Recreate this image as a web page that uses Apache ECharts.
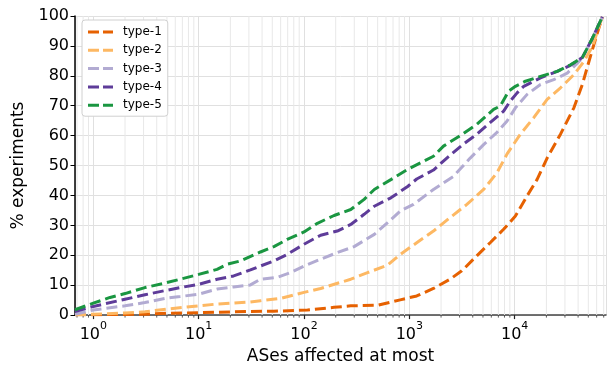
<!DOCTYPE html>
<html>
<head>
<meta charset="utf-8">
<script src="https://cdn.jsdelivr.net/npm/echarts@6/dist/echarts.min.js"></script>
<style>html,body{margin:0;padding:0;background:#fff;}#c{width:608px;height:370px;}</style>
</head>
<body>
<div id="c"></div>
<script>
const seriesNames = ['type-1', 'type-2', 'type-3', 'type-4', 'type-5'];
const colors = ['#e66101', '#fdb863', '#b2abd2', '#5e3c99', '#1a9641'];

const type1X = [0.67, 2, 3.09, 5, 10, 31, 51.8, 108, 193, 278, 499, 820, 1175, 1694, 2438, 3148, 4365, 5848, 7852, 10162, 13092, 16293, 20324, 27227, 36475, 43853, 50699, 58749, 67920];
const type1Y = [0.1, 0.2, 0.3, 0.6, 0.8, 1.2, 1.3, 1.7, 2.6, 3.1, 3.3, 5.1, 6.4, 8.9, 12, 14.8, 19.8, 24.2, 28.7, 33.1, 39.8, 45.3, 52.5, 60.5, 69.3, 77.1, 84.8, 92.5, 99.7];

const type2X = [0.67, 1, 2, 3.09, 5, 10, 14.96, 31, 38.6, 60, 100, 144, 278, 401, 622, 820, 1175, 1694, 2438, 3516, 5070, 6792, 8472, 11324, 15171, 20324, 27227, 36475, 45394, 54576, 67920];
const type2Y = [0.1, 0.3, 0.7, 1.1, 2, 3.1, 3.7, 4.4, 4.8, 5.6, 7.6, 8.9, 12, 14.2, 16.7, 20.3, 24.2, 28.1, 32.6, 37, 42, 47.6, 53.9, 60.5, 66, 72.1, 76, 80.4, 84.8, 89.7, 99.7];

const type3X = [0.67, 1, 2, 3.09, 5, 6.68, 10, 14.96, 21.5, 31, 38.6, 55.7, 74.6, 100, 144, 207, 299, 465, 622, 834, 1096, 1694, 2624, 3784, 5070, 6792, 8472, 10162, 13122, 17579, 23496, 31550, 43853, 54576, 67920];
const type3Y = [0.3, 1.7, 3.1, 4.2, 5.7, 6.2, 7, 8.7, 9.4, 10.1, 12, 12.6, 14.2, 16.4, 18.7, 20.9, 22.9, 27, 30.9, 35, 37, 42, 46.4, 52.5, 57, 61.1, 64.9, 69.3, 73.8, 77.1, 78.7, 80.9, 85.9, 92.5, 99.7];

const type4X = [0.67, 1, 2, 3.09, 4.65, 6.68, 10, 14.96, 21.5, 31, 38.6, 51.8, 69.3, 100, 144, 207, 278, 372, 465, 668, 964, 1175, 1694, 2270, 3266, 4385, 5875, 7852, 9099, 10544, 12190, 17579, 25351, 33884, 43853, 54576, 67920];
const type4Y = [1.2, 2.9, 5.3, 6.8, 8.1, 9.2, 10.3, 12, 13.1, 15.1, 16.4, 18.1, 20.3, 23.7, 26.7, 28.1, 30.3, 33.7, 36.4, 39.2, 43, 45.5, 48.5, 52.5, 57.2, 60.5, 64.4, 68.2, 71.6, 74.3, 76.5, 79.3, 81.5, 83.5, 86.1, 92.5, 99.7];

const type5X = [0.67, 1, 1.44, 2, 3.09, 4.65, 6.68, 10, 14.96, 18.6, 24.9, 38.6, 51.8, 69.3, 100, 134, 193, 278, 372, 465, 668, 964, 1291, 1694, 2109, 3041, 4385, 6310, 7311, 8770, 10162, 12647, 17579, 25351, 33884, 43853, 54576, 67920];
const type5Y = [1.8, 4.0, 5.9, 7.2, 9.2, 10.6, 12, 13.6, 15.3, 17, 18.1, 21.1, 22.9, 25.3, 27.8, 30.7, 33.3, 35.3, 38.7, 42, 45.3, 48.7, 51, 53.1, 56.5, 60, 63.8, 68.8, 69.9, 74.9, 76.5, 78.2, 79.8, 81.5, 83.7, 86.1, 92.5, 99.7];

const minorTickValues = [0.7, 0.8, 0.9, 2, 3, 4, 5, 6, 7, 8, 9, 20, 30, 40, 50, 60, 70, 80, 90,
  200, 300, 400, 500, 600, 700, 800, 900, 2000, 3000, 4000, 5000, 6000, 7000, 8000, 9000,
  20000, 30000, 40000, 50000, 60000, 70000];

const xs = [type1X, type2X, type3X, type4X, type5X];
const ys = [type1Y, type2Y, type3Y, type4Y, type5Y];

const FONT = 'DejaVu Sans';
const DASH_ICON = 'path://M0,0H11V3H0Z M15,0H25V3H15Z';
const chart = echarts.init(document.getElementById('c'), null, {renderer: 'canvas'});

const lineSeries = seriesNames.map((name, k) => ({
  name: name,
  type: 'line',
  data: xs[k].map((x, i) => [x, ys[k][i]]),
  symbol: 'none',
  showSymbol: false,
  color: colors[k],
  itemStyle: {color: colors[k]},
  lineStyle: {width: 3, type: [11, 5], color: colors[k]},
  z: 3 + k
}));

const minorSeries = {
  type: 'custom',
  data: minorTickValues.map(v => [v, 0]),
  clip: false,
  silent: true,
  z: 1,
  renderItem: function (params, api) {
    const x = api.value(0);
    const top = api.coord([x, 100]);
    const bot = api.coord([x, 0]);
    return {
      type: 'group',
      children: [
        {type: 'line', shape: {x1: top[0], y1: top[1], x2: bot[0], y2: bot[1]}, style: {stroke: '#e8e8e8', lineWidth: 1}},
        {type: 'line', shape: {x1: bot[0], y1: bot[1], x2: bot[0], y2: bot[1] + 2.5}, style: {stroke: '#333', lineWidth: 0.8}}
      ]
    };
  }
};

chart.setOption({
  animation: false,
  backgroundColor: '#fff',
  textStyle: {fontFamily: FONT},
  grid: {left: 75, right: 2, top: 16, bottom: 50, containLabel: false},
  legend: {
    data: seriesNames.map(n => ({name: n, icon: DASH_ICON})),
    orient: 'vertical',
    left: 82,
    top: 20,
    padding: [6, 6, 5, 6],
    itemWidth: 25,
    itemHeight: 3,
    itemGap: 6.3,
    backgroundColor: '#fff',
    borderColor: '#d0d0d0',
    borderWidth: 1,
    borderRadius: 3,
    textStyle: {fontFamily: FONT, fontSize: 12, color: '#000', padding: [0, 0, 0, 5]}
  },
  xAxis: {
    type: 'log',
    logBase: 10,
    min: 0.67,
    max: 73600,
    name: 'ASes affected at most',
    nameLocation: 'middle',
    nameGap: 29,
    nameTextStyle: {fontFamily: FONT, fontSize: 17, color: '#000'},
    axisLine: {show: true, lineStyle: {color: '#444', width: 1.5}},
    axisTick: {show: true, length: 4, lineStyle: {color: '#222', width: 1.2}},
    splitLine: {show: true, lineStyle: {color: '#e0e0e0', width: 1}},
    axisLabel: {
      showMinLabel: false,
      showMaxLabel: false,
      margin: 6,
      color: '#000',
      fontFamily: FONT,
      formatter: function (v) {
        const e = Math.round(Math.log10(v));
        return '{b|10}{s|' + e + '}';
      },
      rich: {
        b: {fontFamily: FONT, fontSize: 16, color: '#000', lineHeight: 22, verticalAlign: 'bottom'},
        s: {fontFamily: FONT, fontSize: 11, color: '#000', lineHeight: 22, verticalAlign: 'top'}
      }
    }
  },
  yAxis: {
    type: 'value',
    min: 0,
    max: 100,
    interval: 10,
    name: '% experiments',
    nameLocation: 'middle',
    nameGap: 48,
    nameTextStyle: {fontFamily: FONT, fontSize: 17, color: '#000'},
    axisLine: {show: true, lineStyle: {color: '#000', width: 1.5}},
    axisTick: {show: true, length: 4.5, lineStyle: {color: '#000', width: 1}},
    splitLine: {show: true, lineStyle: {color: '#e0e0e0', width: 1}},
    axisLabel: {fontFamily: FONT, fontSize: 16, color: '#000', margin: 6}
  },
  series: [minorSeries].concat(lineSeries)
});
</script>
</body>
</html>
